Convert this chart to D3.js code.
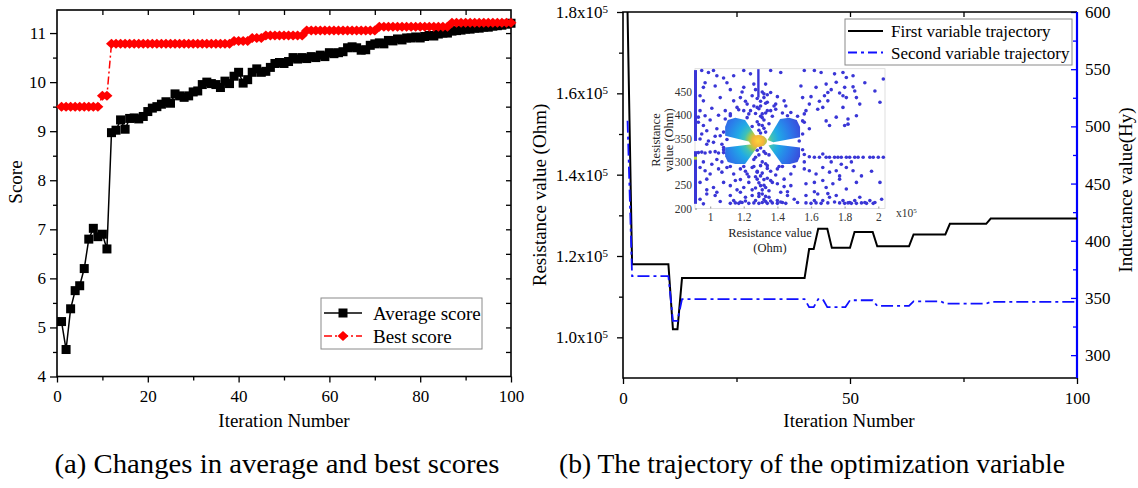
<!DOCTYPE html>
<html>
<head>
<meta charset="utf-8">
<script src="https://cdn.jsdelivr.net/npm/d3@7"></script>
<style>
  body { margin: 0; background: #fff; }
  svg { display: block; }
</style>
</head>
<body>
<div id="chart"></div>
<script>
// ---------- data ----------
const iterations = d3.range(1, 101);

// (a) average / best score per iteration
const avgScore = [
  5.12, 4.55, 5.38, 5.75, 5.85, 6.2, 6.8, 7.02, 6.85, 6.9,
  6.6, 8.97, 9.02, 9.23, 9.04, 9.26, 9.27, 9.25, 9.3, 9.4,
  9.47, 9.5, 9.55, 9.6, 9.57, 9.76, 9.72, 9.69, 9.72, 9.8,
  9.82, 9.95, 10.0, 9.97, 9.95, 9.89, 10.02, 9.97, 10.12, 10.2,
  9.98, 10.05, 10.2, 10.27, 10.2, 10.22, 10.3, 10.38, 10.4, 10.38,
  10.42, 10.5, 10.47, 10.5, 10.48, 10.52, 10.5, 10.55, 10.52, 10.6,
  10.58, 10.6, 10.62, 10.7, 10.72, 10.7, 10.65, 10.66, 10.75, 10.78,
  10.8, 10.78, 10.85, 10.84, 10.88, 10.86, 10.9, 10.9, 10.92, 10.9,
  10.93, 10.95, 10.94, 10.98, 11.0, 11.0, 11.04, 11.05, 11.06, 11.08,
  11.08, 11.1, 11.1, 11.12, 11.12, 11.14, 11.15, 11.16, 11.18, 11.2
];
const bestScore = [
  9.5, 9.5, 9.5, 9.5, 9.5, 9.5, 9.5, 9.5, 9.5, 9.72,
  9.72, 10.78, 10.78, 10.78, 10.78, 10.78, 10.78, 10.78, 10.78, 10.78,
  10.78, 10.78, 10.78, 10.78, 10.78, 10.78, 10.78, 10.78, 10.78, 10.78,
  10.78, 10.78, 10.78, 10.78, 10.78, 10.78, 10.78, 10.78, 10.84, 10.84,
  10.84, 10.84, 10.9, 10.9, 10.9, 10.95, 10.95, 10.95, 10.95, 10.95,
  10.95, 10.95, 10.95, 10.95, 11.05, 11.05, 11.05, 11.05, 11.05, 11.05,
  11.05, 11.05, 11.05, 11.05, 11.05, 11.05, 11.05, 11.05, 11.05, 11.05,
  11.13, 11.13, 11.13, 11.13, 11.13, 11.13, 11.13, 11.13, 11.13, 11.13,
  11.13, 11.13, 11.13, 11.13, 11.13, 11.13, 11.21, 11.21, 11.21, 11.21,
  11.21, 11.21, 11.21, 11.21, 11.21, 11.21, 11.21, 11.21, 11.21, 11.21
];

// (b) trajectories: resistance (Ohm, left axis), inductance (Hy, right axis)
const firstVar = [
  180000, 118000, 118000, 118000, 118000, 118000, 118000, 118000, 118000, 118000,
  102000, 102000, 114600, 114600, 114600, 114600, 114600, 114600, 114600, 114600,
  114600, 114600, 114600, 114600, 114600, 114600, 114600, 114600, 114600, 114600,
  114600, 114600, 114600, 114600, 114600, 114600, 114600, 114600, 114600, 114600,
  121700, 121700, 126700, 126700, 126700, 122000, 122000, 122000, 122000, 122000,
  125900, 125900, 125900, 125900, 125900, 122400, 122400, 122400, 122400, 122400,
  122400, 122400, 122400, 125300, 125300, 125300, 125300, 125300, 125300, 125300,
  125300, 127900, 127900, 127900, 127900, 127900, 127900, 127900, 127900, 127900,
  129200, 129200, 129200, 129200, 129200, 129200, 129200, 129200, 129200, 129200,
  129200, 129200, 129200, 129200, 129200, 129200, 129200, 129200, 129200, 129200
];
const secondVar = [
  505, 369, 369, 369, 369, 369, 369, 369, 369, 369,
  330, 330, 349, 349, 349, 349, 349, 349, 349, 349,
  349, 349, 349, 349, 349, 349, 349, 349, 349, 349,
  349, 349, 349, 349, 349, 349, 349, 349, 349, 349,
  342, 342, 349, 349, 342, 342, 342, 342, 342, 348,
  348, 348, 348, 348, 348, 343, 343, 343, 343, 343,
  343, 343, 343, 347, 347, 347, 347, 347, 347, 347,
  345, 345, 345, 345, 345, 345, 345, 345, 345, 345,
  346.5, 346.5, 346.5, 346.5, 346.5, 346.5, 346.5, 346.5, 346.5, 346.5,
  346.5, 346.5, 346.5, 346.5, 346.5, 346.5, 346.5, 346.5, 346.5, 346.5
];

// tick values
const scoreTicks = [4, 5, 6, 7, 8, 9, 10, 11];
const iterTicksA = [0, 20, 40, 60, 80, 100];
const iterTicksB = [0, 50, 100];
const resTicks = [100000, 120000, 140000, 160000, 180000];
const indTicks = [300, 350, 400, 450, 500, 550, 600];
const insetXTicks = [1, 1.2, 1.4, 1.6, 1.8, 2];
const insetYTicks = [200, 250, 300, 350, 400, 450];

// inset scatter (resistance x1e5, resistance value)
const insetPoints = [
  [0.95,496],[0.99,492],[1.02,496],[1.14,485],[1.20,496],[1.24,489],[1.36,496],[1.42,492],
  [1.56,496],[1.62,496],[1.66,492],[1.74,489],[1.79,492],[1.81,481],[1.85,485],[2.03,478],
  [0.96,460],[1.03,463],[1.20,460],[1.26,467],[1.33,467],[1.36,449],[1.54,463],[1.63,460],
  [1.69,467],[1.70,449],[1.75,471],[1.80,460],[1.85,461],[1.86,452],
  [0.94,442],[0.96,431],[1.06,438],[1.14,431],[1.18,438],[1.22,424],[1.25,442],[1.32,438],
  [1.34,428],[1.39,424],[1.44,431],[1.55,438],[1.59,424],[1.68,442],[1.70,431],[1.79,442],
  [1.81,438],[1.87,438],[1.89,424],[2.01,428],
  [0.93,396],[0.94,410],[0.97,399],[1.09,410],[1.12,403],[1.16,417],[1.20,410],[1.23,403],
  [1.28,417],[1.31,403],[1.36,410],[1.39,413],[1.46,399],[1.48,406],[1.56,403],[1.57,410],
  [1.64,413],[1.67,417],[1.75,396],[1.79,417],[1.82,392],[1.87,399],
  [0.93,385],[0.96,378],[0.98,367],[0.95,360],[1.04,371],[1.06,356],[1.56,385],[1.69,388],
  [1.71,378],[1.80,378],[1.82,381],[1.59,371],
  [0.94,349],[0.98,338],[1.02,342],[1.07,338],[1.08,331],
  [0.93,320],[0.95,321],[0.97,319],[1.00,321],[1.03,322],[1.05,319],[1.08,320],[1.10,318],
  [1.56,316],[1.59,311],[1.62,310],[1.65,310],[1.67,317],[1.69,310],[1.71,310],[1.74,310],
  [1.76,310],[1.78,310],[1.81,310],[1.83,310],[1.86,310],[1.88,310],[1.91,310],[1.95,310],
  [1.97,310],[2.00,310],[2.03,310],
  [0.94,288],[0.97,281],[1.00,274],[1.05,285],[1.07,278],[1.10,288],[1.14,274],[1.18,285],
  [1.22,274],[1.25,288],[1.28,278],[1.34,292],[1.40,285],[1.48,274],[1.56,285],[1.59,281],
  [1.63,274],[1.67,288],[1.71,278],[1.75,281],[1.77,270],[1.81,288],[1.85,281],
  [0.94,256],[0.98,263],[1.02,245],[1.08,256],[1.12,249],[1.15,260],[1.20,245],[1.23,256],
  [1.28,263],[1.30,249],[1.33,245],[1.36,260],[1.40,253],[1.44,263],[1.48,249],[1.57,253],
  [1.62,256],[1.67,260],[1.69,245],[1.73,253],[1.77,263],[1.81,242],[1.87,256],[2.01,256],
  [0.94,220],[0.98,231],[1.04,235],[1.12,228],[1.14,217],[1.18,235],[1.21,224],[1.25,228],
  [1.27,217],[1.31,231],[1.35,224],[1.40,217],[1.42,235],[1.46,228],[1.50,220],[1.57,228],
  [1.62,217],[1.64,231],[1.67,217],[1.71,224],[1.75,228],[1.79,217],[1.83,213],[1.86,217],
  [1.89,224],[1.92,213],[1.95,217],[1.98,213],[2.02,220],
  [1.12,211],[1.15,212],[1.17,211],[1.19,213],[1.23,211],[1.26,212],[1.29,211],[1.31,213],
  [1.34,211],[1.37,212],[1.40,211],[1.43,213],[1.45,211],[1.57,212],[1.60,211],[1.63,212],
  [1.66,211],[1.80,211],[1.82,212],[1.84,211],[1.87,211],[1.90,212],[1.93,211],[1.97,211],
  [1.30,330],[1.32,322],[1.29,315],[1.31,300],[1.33,296],[1.30,270],[1.32,262],[1.31,240],
  [1.29,232],[1.33,226],[1.30,362],[1.32,372],[1.29,380],[1.31,395],[1.33,405],[1.30,420],
  [1.32,446],[1.27,310],[1.35,315],[1.26,290],[1.36,280],
  // dense band above the cluster
  [1.27,455],[1.31,450],[1.34,444],[1.28,436],[1.30,430],[1.33,426],[1.26,420],[1.29,414],
  [1.34,410],[1.27,404],[1.30,398],[1.32,390],[1.28,386],[1.35,382],[1.25,376],[1.31,378],
  [1.29,368],[1.33,364],[1.24,410],[1.37,398],[1.22,395],[1.38,420],[1.21,430],[1.40,440],
  [1.19,450],[1.43,405],[1.17,412],[1.45,420],
  // dense band below the cluster
  [1.28,325],[1.33,318],[1.26,305],[1.30,292],[1.34,286],[1.28,280],[1.31,276],[1.27,268],
  [1.34,265],[1.29,255],[1.32,250],[1.27,244],[1.35,238],[1.29,226],[1.32,219],[1.25,240],
  [1.37,256],[1.23,268],[1.39,272],[1.21,280],[1.41,290],[1.18,262],[1.44,247],[1.16,240],
  [1.46,236],
  // ragged lobe edges
  [1.09,392],[1.12,399],[1.08,364],[1.10,348],[1.52,398],[1.55,388],[1.55,360],[1.53,345],
  [1.08,326],[1.07,300],[1.12,290],[1.20,290],[1.55,326],[1.56,300],[1.50,290],[1.43,290],
  // remaining scatter
  [0.96,300],[1.01,295],[1.04,305],[0.99,345],[1.03,355],[1.00,390],[1.05,400],[1.01,415],
  [0.97,470],[1.08,480],[1.04,485],[1.10,470],[1.12,455],[0.98,240],[1.03,228],[1.06,215],
  [0.96,210],[1.18,214],[1.21,216],[1.33,215],[1.36,216],[1.42,214],[1.52,213],[1.70,212],
  [1.74,214],[1.77,212],[1.60,440],[1.65,430],[1.72,455],[1.77,448],[1.92,470],[1.98,452],
  [1.72,300],[1.78,295],[1.84,300],[1.90,270],[1.96,280],[1.62,236],[1.70,232]
];
// dense runs of points drawn as solid strokes
const insetColumnX = 0.913;
const insetColumnRuns = [[210, 323], [345, 497]];
const insetTopLineX = 1.287;
const insetTopLineRun = [438, 499];
const insetHotSpot = [0.913, 308];
// the X-shaped dense cluster: centre and four lobes
const clusterCentre = [1.285, 345];
const clusterLobes = [
  [[1.287,347],[1.208,390],[1.150,395],[1.105,390],[1.089,375],[1.089,356],[1.248,342]],
  [[1.341,347],[1.416,392],[1.470,395],[1.515,390],[1.535,375],[1.535,353],[1.376,342]],
  [[1.248,338],[1.089,331],[1.089,312],[1.105,300],[1.150,295.5],[1.208,295.5],[1.287,335]],
  [[1.347,335],[1.426,295.5],[1.475,295.5],[1.520,300],[1.535,312],[1.535,331],[1.376,338]]
];

// ---------- setup ----------
const W = 1138, H = 488;
const serif = '"Liberation Serif","Times New Roman",serif';

const svg = d3.select("#chart").append("svg")
  .attr("width", W).attr("height", H)
  .style("font-family", serif);

svg.append("rect").attr("width", W).attr("height", H).attr("fill", "#fff");

function fixAxis(g, fs, color) {
  color = color || "#000";
  g.attr("font-family", null).attr("font-size", null);
  g.select(".domain").remove();
  g.selectAll(".tick line").attr("stroke", color).attr("stroke-width", 1.3);
  g.selectAll(".tick text").attr("fill", "#000")
    .style("font-family", serif).style("font-size", fs + "px");
  return g;
}

// ================= (a) =================
const xA = d3.scaleLinear().domain([0, 100]).range([57, 511]);
const yA = d3.scaleLinear().domain([4, 11.47]).range([376.5, 10]);
const gA = svg.append("g");

// axes
fixAxis(gA.append("g").attr("transform", `translate(0,${yA.range()[0]})`)
  .call(d3.axisBottom(xA).tickValues(iterTicksA).tickSize(6).tickPadding(7)), 17);
fixAxis(gA.append("g").attr("transform", `translate(0,${yA.range()[0]})`)
  .call(d3.axisBottom(xA).tickValues([10, 30, 50, 70, 90]).tickSize(4).tickFormat("")), 17);
fixAxis(gA.append("g").attr("transform", `translate(0,${yA.range()[1]})`)
  .call(d3.axisTop(xA).tickValues([10, 20, 30, 40, 50, 60, 70, 80, 90]).tickSize(-5).tickFormat("")), 17);
fixAxis(gA.append("g").attr("transform", `translate(${xA.range()[0]},0)`)
  .call(d3.axisLeft(yA).tickValues(scoreTicks).tickSize(7).tickPadding(4)), 17);
fixAxis(gA.append("g").attr("transform", `translate(${xA.range()[0]},0)`)
  .call(d3.axisLeft(yA).tickValues([4.5, 5.5, 6.5, 7.5, 8.5, 9.5, 10.5]).tickSize(4).tickFormat("")), 17);
fixAxis(gA.append("g").attr("transform", `translate(${xA.range()[1]},0)`)
  .call(d3.axisRight(yA).tickValues([4.5, 5, 5.5, 6, 6.5, 7, 7.5, 8, 8.5, 9, 9.5, 10, 10.5, 11]).tickSize(-5).tickFormat("")), 17);

gA.append("rect")
  .attr("x", xA.range()[0]).attr("y", yA.range()[1])
  .attr("width", xA.range()[1] - xA.range()[0]).attr("height", yA.range()[0] - yA.range()[1])
  .attr("fill", "none").attr("stroke", "#000").attr("stroke-width", 1.6);

// series
const lineA = d3.line().x((d, i) => xA(iterations[i])).y(d => yA(d));
gA.append("path").datum(avgScore).attr("d", lineA)
  .attr("fill", "none").attr("stroke", "#000").attr("stroke-width", 1.5);
gA.selectAll(".sq").data(avgScore).join("rect").attr("class", "sq")
  .attr("x", (d, i) => xA(iterations[i]) - 4.5).attr("y", d => yA(d) - 4.5)
  .attr("width", 9).attr("height", 9).attr("fill", "#000");

gA.append("path").datum(bestScore).attr("d", lineA)
  .attr("fill", "none").attr("stroke", "#ff0000").attr("stroke-width", 1.5)
  .attr("stroke-dasharray", "8,3,2,3");
const diamond = "M0,-5L5.5,0L0,5L-5.5,0Z";
gA.selectAll(".dm").data(bestScore).join("path").attr("class", "dm")
  .attr("d", diamond)
  .attr("transform", (d, i) => `translate(${xA(iterations[i])},${yA(d)})`)
  .attr("fill", "#ff0000");

// titles
gA.append("text").attr("transform", "translate(22,182) rotate(-90)")
  .attr("text-anchor", "middle").style("font-size", "19px").text("Score");
gA.append("text").attr("x", 284).attr("y", 427)
  .attr("text-anchor", "middle").style("font-size", "19px").text("Iteration Number");

// legend
const legA = gA.append("g");
legA.append("rect").attr("x", 321).attr("y", 298).attr("width", 161).attr("height", 51)
  .attr("fill", "#fff").attr("stroke", "#8a8a8a").attr("stroke-width", 1);
legA.append("line").attr("x1", 324).attr("x2", 362).attr("y1", 313).attr("y2", 313)
  .attr("stroke", "#000").attr("stroke-width", 1.5);
legA.append("rect").attr("x", 338.5).attr("y", 308.5).attr("width", 9).attr("height", 9).attr("fill", "#000");
legA.append("line").attr("x1", 324).attr("x2", 362).attr("y1", 336).attr("y2", 336)
  .attr("stroke", "#ff0000").attr("stroke-width", 1.5).attr("stroke-dasharray", "8,3,2,3");
legA.append("path").attr("d", diamond).attr("transform", "translate(343,336)").attr("fill", "#ff0000");
legA.append("text").attr("x", 373).attr("y", 319.5).style("font-size", "19px").text("Average score");
legA.append("text").attr("x", 373).attr("y", 342.5).style("font-size", "19px").text("Best score");

// ================= (b) =================
const xB = d3.scaleLinear().domain([0, 100]).range([623, 1077]);
const yB = d3.scaleLinear().domain([90000, 180000]).range([378, 12]);
const yR = d3.scaleLinear().domain([280, 600]).range([378, 12]);
const gB = svg.append("g");

fixAxis(gB.append("g").attr("transform", `translate(0,${yB.range()[0]})`)
  .call(d3.axisBottom(xB).tickValues(iterTicksB).tickSize(6).tickPadding(8)), 17);
fixAxis(gB.append("g").attr("transform", `translate(0,${yB.range()[0]})`)
  .call(d3.axisBottom(xB).tickValues([25, 75]).tickSize(4).tickFormat("")), 17);
fixAxis(gB.append("g").attr("transform", `translate(0,${yB.range()[1]})`)
  .call(d3.axisTop(xB).tickValues([25, 50, 75]).tickSize(-5).tickFormat("")), 17);

const leftB = fixAxis(gB.append("g").attr("transform", `translate(${xB.range()[0]},0)`)
  .call(d3.axisLeft(yB).tickValues(resTicks).tickSize(6).tickPadding(9)), 17);
leftB.selectAll(".tick text").each(function (d) {
  const t = d3.select(this).text(null);
  t.append("tspan").text((d / 1e5).toFixed(1) + "x10");
  t.append("tspan").attr("dy", "-0.45em").style("font-size", "11px").text("5");
});
fixAxis(gB.append("g").attr("transform", `translate(${xB.range()[0]},0)`)
  .call(d3.axisLeft(yB).tickValues([110000, 130000, 150000, 170000]).tickSize(4).tickFormat("")), 17);

fixAxis(gB.append("g").attr("transform", `translate(${xB.range()[1]},0)`)
  .call(d3.axisRight(yR).tickValues(indTicks).tickSize(-6).tickPadding(8)), 17, "#0000ff");
fixAxis(gB.append("g").attr("transform", `translate(${xB.range()[1]},0)`)
  .call(d3.axisRight(yR).tickValues([325, 375, 425, 475, 525, 575]).tickSize(-4).tickFormat("")), 17, "#0000ff");

// frame: black top/left/bottom, blue right
const [bx0, bx1] = xB.range(), [by1, by0] = yB.range();
gB.append("path").attr("d", `M${bx1},${by0}H${bx0}V${by1}H${bx1}`)
  .attr("fill", "none").attr("stroke", "#000").attr("stroke-width", 1.6);
gB.append("line").attr("x1", bx1).attr("x2", bx1).attr("y1", by0).attr("y2", by1)
  .attr("stroke", "#0000ff").attr("stroke-width", 2.2);

gB.append("path").datum(firstVar)
  .attr("d", d3.line().x((d, i) => xB(iterations[i])).y(d => yB(d)))
  .attr("fill", "none").attr("stroke", "#000").attr("stroke-width", 2);
gB.append("path").datum(secondVar)
  .attr("d", d3.line().x((d, i) => xB(iterations[i])).y(d => yR(d)))
  .attr("fill", "none").attr("stroke", "#1010ff").attr("stroke-width", 1.8)
  .attr("stroke-dasharray", "12,4,3,4");

// titles
gB.append("text").attr("transform", "translate(546,195) rotate(-90)")
  .attr("text-anchor", "middle").style("font-size", "19px").text("Resistance value (Ohm)");
gB.append("text").attr("transform", "translate(1132,190) rotate(-90)")
  .attr("text-anchor", "middle").style("font-size", "19px").text("Inductance value(Hy)");
gB.append("text").attr("x", 849).attr("y", 427)
  .attr("text-anchor", "middle").style("font-size", "19px").text("Iteration Number");

// legend
const legB = gB.append("g");
legB.append("rect").attr("x", 845).attr("y", 19).attr("width", 227).attr("height", 46)
  .attr("fill", "#fff").attr("stroke", "#8a8a8a").attr("stroke-width", 1);
legB.append("line").attr("x1", 848).attr("x2", 883).attr("y1", 31).attr("y2", 31)
  .attr("stroke", "#000").attr("stroke-width", 2);
legB.append("line").attr("x1", 848).attr("x2", 883).attr("y1", 52.5).attr("y2", 52.5)
  .attr("stroke", "#1010ff").attr("stroke-width", 1.8).attr("stroke-dasharray", "9,4,3,4");
legB.append("text").attr("x", 891).attr("y", 37).style("font-size", "17px").text("First variable trajectory");
legB.append("text").attr("x", 891).attr("y", 58.5).style("font-size", "17px").text("Second variable trajectory");

// ================= inset =================
const xI = d3.scaleLinear().domain([0.91, 2.04]).range([695, 885]);
const yI = d3.scaleLinear().domain([200, 500]).range([208.5, 68.7]);
const gI = svg.append("g");
const dotColor = "#3a36d6";

gI.append("rect").attr("x", xI.range()[0]).attr("y", yI.range()[1])
  .attr("width", xI.range()[1] - xI.range()[0]).attr("height", yI.range()[0] - yI.range()[1])
  .attr("fill", "#fff").attr("stroke", "#d8d8d8").attr("stroke-width", 0.8);

const insetFs = 11.5;
const ixAxis = gI.append("g").attr("transform", `translate(0,${yI.range()[0]})`)
  .call(d3.axisBottom(xI).tickValues(insetXTicks).tickSize(-2).tickPadding(4).tickFormat(d3.format("")));
fixAxis(ixAxis, insetFs, "#aaa");
ixAxis.selectAll(".tick text").attr("fill", "#333");
const iyAxis = gI.append("g").attr("transform", `translate(${xI.range()[0]},0)`)
  .call(d3.axisLeft(yI).tickValues(insetYTicks).tickSize(-2).tickPadding(3));
fixAxis(iyAxis, insetFs, "#aaa");
iyAxis.selectAll(".tick text").attr("fill", "#333");

const expo = gI.append("text").attr("x", xI(2.04) + 11).attr("y", yI(200) + 8)
  .attr("fill", "#333").style("font-size", "11.5px");
expo.append("tspan").text("x10");
expo.append("tspan").attr("dy", "-0.5em").style("font-size", "7px").text("5");

gI.append("text").attr("x", 770).attr("y", 237).attr("text-anchor", "middle")
  .attr("fill", "#222").style("font-size", "12.5px").text("Resistance value");
gI.append("text").attr("x", 770).attr("y", 252).attr("text-anchor", "middle")
  .attr("fill", "#222").style("font-size", "12.5px").text("(Ohm)");
gI.append("text").attr("transform", "translate(660,140) rotate(-90)").attr("text-anchor", "middle")
  .attr("fill", "#222").style("font-size", "12.5px").text("Resistance");
gI.append("text").attr("transform", "translate(673,140) rotate(-90)").attr("text-anchor", "middle")
  .attr("fill", "#222").style("font-size", "12.5px").text("value (Ohm)");

// scattered points
gI.selectAll(".pt").data(insetPoints).join("circle").attr("class", "pt")
  .attr("cx", d => xI(d[0])).attr("cy", d => yI(d[1])).attr("r", 1.8).attr("fill", dotColor);
gI.selectAll(".run").data(insetColumnRuns).join("line").attr("class", "run")
  .attr("x1", xI(insetColumnX)).attr("x2", xI(insetColumnX))
  .attr("y1", d => yI(d[0])).attr("y2", d => yI(d[1]))
  .attr("stroke", dotColor).attr("stroke-width", 3);
gI.append("line")
  .attr("x1", xI(insetTopLineX)).attr("x2", xI(insetTopLineX))
  .attr("y1", yI(insetTopLineRun[0])).attr("y2", yI(insetTopLineRun[1]))
  .attr("stroke", dotColor).attr("stroke-width", 2.4);
gI.append("rect").attr("x", xI(insetHotSpot[0]) - 1.5).attr("y", yI(insetHotSpot[1]) - 1.5)
  .attr("width", 3).attr("height", 3).attr("fill", "#b8d63a");

// density cluster
const grad = svg.append("defs").append("radialGradient").attr("id", "dens")
  .attr("gradientUnits", "userSpaceOnUse")
  .attr("cx", xI(clusterCentre[0])).attr("cy", yI(clusterCentre[1])).attr("r", 46);
[[0, "#fcd63a"], [0.12, "#f3b43b"], [0.2, "#a8c94b"], [0.3, "#3ec2b8"],
 [0.45, "#20a9e6"], [0.7, "#2b7bea"], [1, "#3b47da"]].forEach(([o, c]) =>
  grad.append("stop").attr("offset", o).attr("stop-color", c));

gI.selectAll(".lobe").data(clusterLobes).join("path").attr("class", "lobe")
  .attr("d", d => d3.line().x(p => xI(p[0])).y(p => yI(p[1])).curve(d3.curveLinearClosed)(d))
  .attr("fill", "url(#dens)");
gI.append("ellipse").attr("cx", xI(clusterCentre[0])).attr("cy", yI(clusterCentre[1]))
  .attr("rx", 9).attr("ry", 6).attr("fill", "url(#dens)");

// ================= captions =================
svg.append("text").attr("x", 277).attr("y", 473).attr("text-anchor", "middle")
  .attr("textLength", 445).attr("lengthAdjust", "spacingAndGlyphs")
  .style("font-size", "28px").text("(a) Changes in average and best scores");
svg.append("text").attr("x", 812).attr("y", 473).attr("text-anchor", "middle")
  .attr("textLength", 506).attr("lengthAdjust", "spacingAndGlyphs")
  .style("font-size", "28px").text("(b) The trajectory of the optimization variable");
</script>
</body>
</html>
